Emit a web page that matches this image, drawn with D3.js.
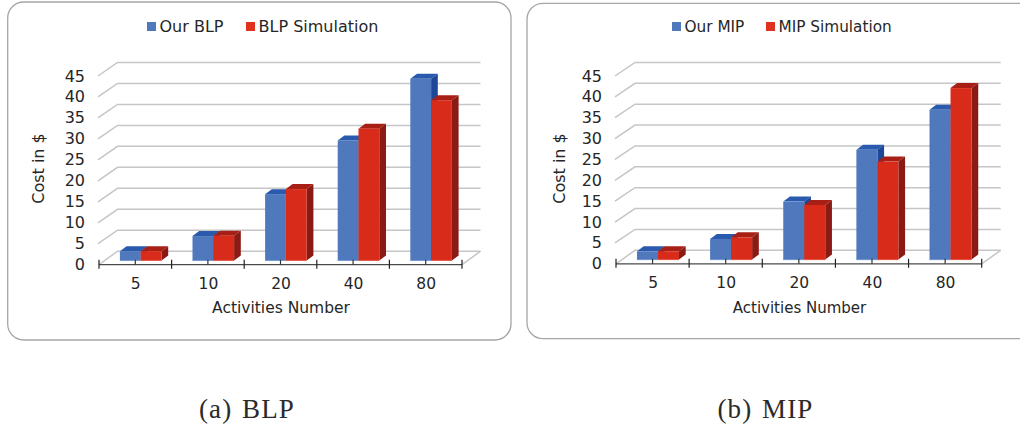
<!DOCTYPE html>
<html><head><meta charset="utf-8">
<script src="https://cdn.jsdelivr.net/npm/d3@7"></script>
<style>html,body{margin:0;padding:0;background:#fff;overflow:hidden}svg{display:block}</style>
</head><body><svg id="c" width="1020" height="428"></svg>
<script>
const categories = ["5","10","20","40","80"];
const yTicks = [0,5,10,15,20,25,30,35,40,45];
const blpOurs = [2.2,5.8,15.8,28.6,43.3];
const blpSim = [2.2,5.9,17.0,31.4,38.2];
const mipOurs = [2.0,4.95,13.9,26.3,35.9];
const mipSim = [2.0,5.35,13.1,23.5,41.1];
const blpNames = ["Our BLP","BLP Simulation"];
const mipNames = ["Our MIP","MIP Simulation"];
const captions = ["(a) BLP","(b) MIP"];

const C = {blue:"#4f78bd",blueEdge:"#6d90cf",blueTop:"#2a5aae",blueSide:"#1d4899",red:"#d92b1a",redEdge:"#e4503f",redTop:"#a81f16",redSide:"#8a1a14",grid:"#c6c6c6",axis:"#4a4a4a",text:"#262626"};
const FONT = "'DejaVu Sans',sans-serif";
const svg = d3.select("#c");

function panel(o){
  const g = svg.append("g");
  g.append("path").attr("fill","#fff").attr("stroke","#a6a6a6").attr("stroke-width",1.3)
    .attr("d",`M${o.bx0+16},${o.by0}H${o.bx1-16}A16,16 0 0 1 ${o.bx1},${o.by0+16}V${o.by1-16}A16,16 0 0 1 ${o.bx1-16},${o.by1}H${o.bx0+16}A16,16 0 0 1 ${o.bx0},${o.by1-16}V${o.by0+16}A16,16 0 0 1 ${o.bx0+16},${o.by0}Z`);
  const y = d3.scaleLinear().domain([0,45]).range([o.y0,o.y45]);
  const x = d3.scaleBand().domain(categories).range([o.x0,o.x1]);
  const dx = o.depthX, dy = o.depthY;
  yTicks.forEach(t=>{
    g.append("path").attr("fill","none").attr("stroke",C.grid).attr("stroke-width",1.5)
      .attr("d",`M${o.x0-(t===0?0:1)},${y(t)}L${o.x0+dx},${y(t)-dy}H${o.x1+dx}`);
  });
  g.append("line").attr("x1",o.x1).attr("y1",y(0)).attr("x2",o.x1+dx).attr("y2",y(0)-dy).attr("stroke",C.grid).attr("stroke-width",1.5);
  yTicks.forEach(t=>{
    g.append("text").attr("x",o.labelX).attr("y",y(t)).attr("text-anchor","end").attr("dominant-baseline","central")
      .attr("font-family",FONT).attr("font-size",16).attr("fill",C.text).text(t);
  });
  const inset = o.barInset, bw = o.barW, sdx = 6.7, sdy = 5;
  const base = o.y0 - inset*dy;
  const shift = o.barShift;
  const h = v => y(0)-y(v);
  categories.forEach((c,i)=>{
    const mid = x(c)+x.bandwidth()/2+shift;
    [[o.ours[i],mid-bw,C.blue,C.blueTop,C.blueSide,C.blueEdge],[o.sim[i],mid,C.red,C.redTop,C.redSide,C.redEdge]].forEach(([v,l,f,t,s,e])=>{
      const top = base-h(v), r=l+bw;
      g.append("path").attr("fill",t).attr("d",`M${l},${top}L${l+sdx},${top-sdy}H${r+sdx}L${r},${top}Z`);
      g.append("path").attr("fill",s).attr("d",`M${r},${top}L${r+sdx},${top-sdy}V${base-sdy}L${r},${base}Z`);
      g.append("rect").attr("x",l).attr("y",top).attr("width",bw).attr("height",base-top).attr("fill",f);
      g.append("line").attr("x1",l).attr("x2",r).attr("y1",base).attr("y2",base).attr("stroke",e).attr("stroke-width",1);
    });
  });
  g.append("line").attr("x1",o.x0).attr("x2",o.x1).attr("y1",o.y0).attr("y2",o.y0).attr("stroke",C.axis).attr("stroke-width",1.3);
  const edges = categories.map(c=>x(c)).concat([o.x1]);
  edges.forEach(e=>g.append("line").attr("x1",e).attr("x2",e).attr("y1",o.y0-5).attr("y2",o.y0+4).attr("stroke","#222").attr("stroke-width",1.2));
  categories.forEach(c=>{
    const m=x(c)+x.bandwidth()/2;
    g.append("line").attr("x1",m).attr("x2",m).attr("y1",o.y0-5).attr("y2",o.y0).attr("stroke","#333").attr("stroke-width",1.2);
    g.append("text").attr("x",m+0.5).attr("y",o.y0+24).attr("text-anchor","middle").attr("font-family",FONT).attr("font-size",15.5).attr("fill",C.text).text(c);
  });
  g.append("text").attr("x",o.xTitleX).attr("y",312.5).attr("text-anchor","middle").attr("font-family",FONT).attr("font-size",o.xTitleSize).attr("fill",C.text).text("Activities Number");
  g.append("text").attr("transform",`translate(${o.yTitleX},168.5) rotate(-90)`).attr("text-anchor","middle").attr("font-family",FONT).attr("font-size",16).attr("fill",C.text).text("Cost in $");
  [[o.names[0],o.lg0,C.blue],[o.names[1],o.lg1,"#e0301e"]].forEach(([n,lx,f])=>{
    g.append("rect").attr("x",lx).attr("y",22).attr("width",9).attr("height",9).attr("fill",f);
    g.append("text").attr("x",lx+12.5).attr("y",32).attr("font-family",FONT).attr("font-size",o.legendSize).attr("fill",C.text).text(n);
  });
  svg.append("text").attr("x",o.capX).attr("y",418).attr("text-anchor","middle").attr("font-family","'Liberation Serif',serif")
    .attr("font-size",27).attr("letter-spacing",1.2).attr("word-spacing",1.5).attr("fill","#2a2a2a").text(o.caption);
}

panel({names:blpNames,ours:blpOurs,sim:blpSim,caption:captions[0],capX:247,
  bx0:7.7,bx1:511,by0:2,by1:340,x0:99,x1:462,y0:264.7,y45:76,depthX:18.5,depthY:13.5,
  labelX:85,barInset:0.32,barShift:5.4,barW:20.8,xTitleX:281,yTitleX:44,lg0:147,lg1:246,legendSize:16,xTitleSize:15.5});
panel({names:mipNames,ours:mipOurs,sim:mipSim,caption:captions[1],capX:765.5,
  bx0:527,bx1:1036,by0:3.3,by1:338.7,x0:616,x1:981.7,y0:263.8,y45:76,depthX:19,depthY:13.5,
  labelX:602,barInset:0.31,barShift:5.4,barW:21,xTitleX:799.5,yTitleX:565,lg0:672,lg1:766,legendSize:15.3,xTitleSize:15});
</script></body></html>
